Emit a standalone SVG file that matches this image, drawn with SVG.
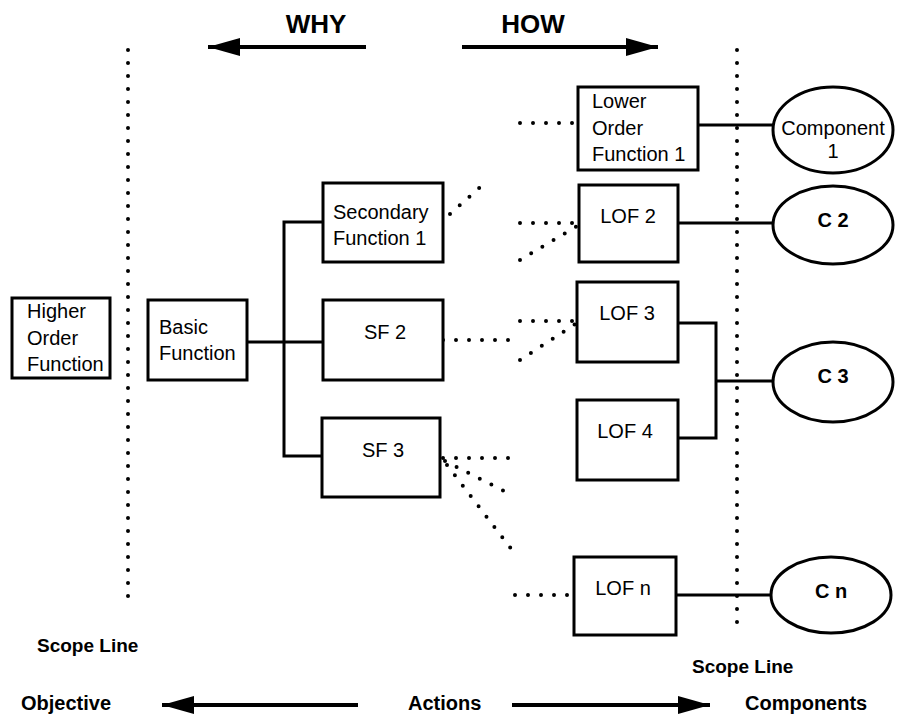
<svg xmlns="http://www.w3.org/2000/svg" width="897" height="724" viewBox="0 0 897 724">
<defs>
<style>
.box{fill:#fff;stroke:#000;stroke-width:3}
.ell{fill:#fff;stroke:#000;stroke-width:3}
.t{font-family:"Liberation Sans",Arial,sans-serif;font-size:20px;fill:#000}
.c{text-anchor:middle}
.b{font-family:"Liberation Sans",Arial,sans-serif;font-weight:bold;font-size:20px;fill:#000}
.s{font-size:19px}
.big{font-family:"Liberation Sans",Arial,sans-serif;font-weight:bold;font-size:26px;fill:#000;text-anchor:middle}
.solid{fill:none;stroke:#000;stroke-width:3}
.dot{fill:none;stroke:#000;stroke-width:4;stroke-linecap:round;stroke-dasharray:0 13}
.arr{fill:none;stroke:#000;stroke-width:4;marker-end:url(#head)}
</style>
<marker id="head" markerUnits="userSpaceOnUse" markerWidth="32" markerHeight="18" refX="32" refY="9" orient="auto">
<path d="M0,0 L32,9 L0,18 Z" fill="#000"/>
</marker>
</defs>
<rect width="897" height="724" fill="#fff"/>

<g id="headers">
<text class="big" x="316" y="33">WHY</text>
<text class="big" x="533" y="33">HOW</text>
<line class="arr" x1="366" y1="47" x2="208" y2="47"/>
<line class="arr" x1="462" y1="47" x2="658" y2="47"/>
</g>

<g id="scope-lines">
<line class="dot" x1="128" y1="50" x2="128" y2="608"/>
<line class="dot" x1="737" y1="50" x2="737" y2="635"/>
<text class="b s" x="37" y="652">Scope Line</text>
<text class="b s" x="692" y="673">Scope Line</text>
</g>

<g id="connectors">
<line class="solid" x1="247" y1="342" x2="323" y2="342"/>
<path class="solid" d="M323,222 H284 V456 H322"/>
<line class="solid" x1="698" y1="125" x2="773" y2="125"/>
<line class="solid" x1="678" y1="223" x2="773" y2="223"/>
<path class="solid" d="M678,323 H716 V438 H678"/>
<line class="solid" x1="716" y1="381" x2="773" y2="381"/>
<line class="solid" x1="676" y1="595" x2="771" y2="595"/>
<line class="dot" x1="520" y1="123" x2="578" y2="123"/>
<line class="dot" x1="450" y1="214" x2="486" y2="182"/>
<line class="dot" x1="520" y1="223" x2="579" y2="223"/>
<line class="dot" x1="520" y1="260" x2="579" y2="225"/>
<line class="dot" x1="443" y1="340" x2="518" y2="340"/>
<line class="dot" x1="520" y1="321" x2="577" y2="321"/>
<line class="dot" x1="520" y1="360" x2="577" y2="323"/>
<line class="dot" x1="443" y1="458" x2="518" y2="458"/>
<line class="dot" x1="445" y1="461" x2="512" y2="495"/>
<line class="dot" x1="447" y1="465" x2="512" y2="550"/>
<line class="dot" x1="515" y1="595" x2="574" y2="595"/>
</g>

<g id="higher-order-function">
<rect class="box" x="12" y="298" width="98" height="80"/>
<text class="t" x="27" y="318">Higher</text>
<text class="t" x="27" y="345">Order</text>
<text class="t" x="27" y="371">Function</text>
</g>

<g id="basic-function">
<rect class="box" x="148" y="300" width="99" height="80"/>
<text class="t" x="159" y="334">Basic</text>
<text class="t" x="159" y="360">Function</text>
</g>

<g id="secondary-function-1">
<rect class="box" x="323" y="183" width="120" height="79"/>
<text class="t" x="333" y="219">Secondary</text>
<text class="t" x="333" y="245">Function 1</text>
</g>

<g id="sf2">
<rect class="box" x="323" y="300" width="120" height="80"/>
<text class="t c" x="385" y="339">SF 2</text>
</g>

<g id="sf3">
<rect class="box" x="322" y="418" width="118" height="79"/>
<text class="t c" x="383" y="457">SF 3</text>
</g>

<g id="lower-order-function-1">
<rect class="box" x="578" y="87" width="120" height="83"/>
<text class="t" x="592" y="108">Lower</text>
<text class="t" x="592" y="135">Order</text>
<text class="t" x="592" y="161">Function 1</text>
</g>

<g id="lof2">
<rect class="box" x="579" y="185" width="99" height="77"/>
<text class="t c" x="628" y="223">LOF 2</text>
</g>

<g id="lof3">
<rect class="box" x="577" y="282" width="101" height="80"/>
<text class="t c" x="627" y="320">LOF 3</text>
</g>

<g id="lof4">
<rect class="box" x="577" y="400" width="101" height="80"/>
<text class="t c" x="625" y="438">LOF 4</text>
</g>

<g id="lofn">
<rect class="box" x="574" y="557" width="102" height="78"/>
<text class="t c" x="623" y="595">LOF n</text>
</g>

<g id="component-1">
<ellipse class="ell" cx="833" cy="130" rx="60" ry="43"/>
<text class="t c" x="833" y="135">Component</text>
<text class="t c" x="833" y="158">1</text>
</g>

<g id="c2">
<ellipse class="ell" cx="833" cy="225" rx="60" ry="39"/>
<text class="b c" x="833" y="227">C 2</text>
</g>

<g id="c3">
<ellipse class="ell" cx="833" cy="382" rx="60" ry="40"/>
<text class="b c" x="833" y="383">C 3</text>
</g>

<g id="cn">
<ellipse class="ell" cx="831" cy="595" rx="60" ry="38"/>
<text class="b c" x="831" y="598">C n</text>
</g>

<g id="footer">
<text class="b" x="21" y="710">Objective</text>
<text class="b" x="408" y="710">Actions</text>
<text class="b" x="745" y="710">Components</text>
<line class="arr" x1="358" y1="705" x2="162" y2="705"/>
<line class="arr" x1="512" y1="705" x2="710" y2="705"/>
</g>
</svg>
